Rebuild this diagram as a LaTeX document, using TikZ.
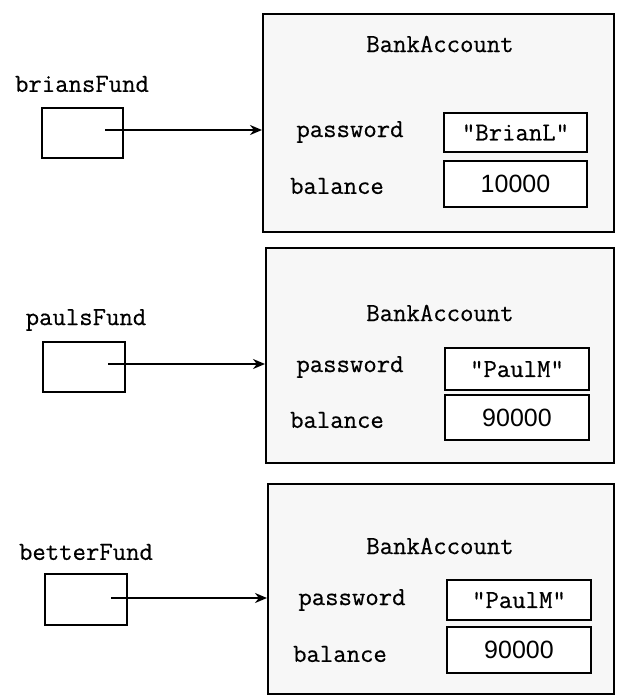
\documentclass[tikz,border=0pt]{standalone}
\usepackage{fontspec}
\newfontfamily\numfont{Liberation Sans}
\newfontfamily\codefont[FakeBold=0.5]{Latin Modern Mono}
\usetikzlibrary{fit,arrows.meta}
\tikzset{
  acct/.style={draw, line width=1pt, fill=black!3, inner sep=0pt},
  refbox/.style={draw, line width=1pt, fill=white, inner sep=0pt},
  valbox/.style={draw, line width=1pt, fill=white, inner sep=0pt},
  codetxt/.style={inner sep=0pt, font=\fontsize{13}{15}\selectfont\codefont},
  numtxt/.style={inner sep=0pt, font=\fontsize{12.5}{15}\selectfont\numfont},
  lbl/.style={inner sep=0pt, font=\fontsize{13}{15}\selectfont\codefont},
  ptr/.style={line width=1pt, -{Stealth[length=6pt,width=5pt]}}
}
\begin{document}
\begin{tikzpicture}[x=0.5pt,y=-0.5pt]
\useasboundingbox (0,0) rectangle (616,696);
% Row 1
\node[acct, fit={(263,14) (614,232)}] (acc1) {};
\node[lbl] (title1) at (440,44) {BankAccount};
\node[lbl] (var1) at (82,84) {briansFund};
\node[refbox, fit={(42,108) (123,158)}] (ref1) {};
\coordinate (s1) at (105,130);
\node[lbl] (pw1) at (350,132) {password};
\node[lbl] (bal1) at (337,186) {balance};
\node[valbox, fit={(444,113) (587,152)}] (pwv1) {};
\node[codetxt] (pwt1) at (pwv1.center) {"BrianL"};
\node[valbox, fit={(444,161) (587,207)}] (balv1) {};
\node[numtxt] (balt1) at (balv1.center) {10000};
\draw[ptr] (s1) -- (s1 -| acc1.west);
% Row 2
\node[acct, fit={(266,248) (614,463)}] (acc2) {};
\node[lbl] (title2) at (440,313) {BankAccount};
\node[lbl] (var2) at (86,320) {paulsFund};
\node[refbox, fit={(43,342) (125,392)}] (ref2) {};
\coordinate (s2) at (108,364);
\node[lbl] (pw2) at (350,367) {password};
\node[lbl] (bal2) at (337,420) {balance};
\node[valbox, fit={(445,348) (589,390)}] (pwv2) {};
\node[codetxt] (pwt2) at (pwv2.center) {"PaulM"};
\node[valbox, fit={(445,395) (589,440)}] (balv2) {};
\node[numtxt] (balt2) at (balv2.center) {90000};
\draw[ptr] (s2) -- (s2 -| acc2.west);
% Row 3
\node[acct, fit={(268,484) (614,694)}] (acc3) {};
\node[lbl] (title3) at (440,546) {BankAccount};
\node[lbl] (var3) at (86,552) {betterFund};
\node[refbox, fit={(45,574) (127,625)}] (ref3) {};
\coordinate (s3) at (111,598);
\node[lbl] (pw3) at (352,600) {password};
\node[lbl] (bal3) at (340,654) {balance};
\node[valbox, fit={(447,580) (591,620)}] (pwv3) {};
\node[codetxt] (pwt3) at (pwv3.center) {"PaulM"};
\node[valbox, fit={(447,627) (591,673)}] (balv3) {};
\node[numtxt] (balt3) at (balv3.center) {90000};
\draw[ptr] (s3) -- (s3 -| acc3.west);
\end{tikzpicture}
\end{document}
